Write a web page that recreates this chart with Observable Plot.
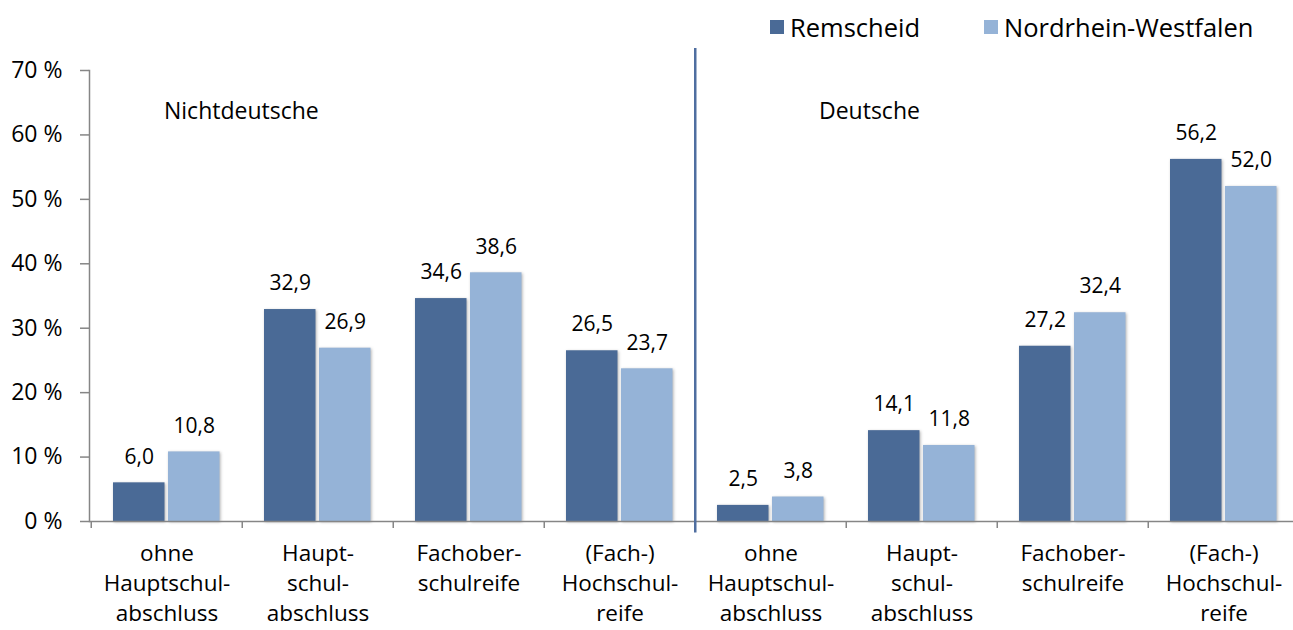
<!DOCTYPE html>
<html>
<head>
<meta charset="utf-8">
<script src="https://cdn.jsdelivr.net/npm/d3@7"></script>
<script src="https://cdn.jsdelivr.net/npm/@observablehq/plot@0.6"></script>
<style>
  html, body { margin: 0; padding: 0; background: #fff; }
  #wrap { position: relative; width: 1293px; height: 630px; overflow: hidden; font-family: "Open Sans", sans-serif; }
  #legend { position: absolute; top: 10px; left: 770px; display: flex; align-items: center; font-size: 25.5px; color: #000; white-space: nowrap; }
  #legend .sw { display: inline-block; width: 14px; height: 14px; margin-right: 6px; }
  #legend .item { display: flex; align-items: center; }
</style>
</head>
<body>
<div id="wrap"><div id="legend"></div></div>
<script>
// ---- data ----
const groups = ["Nichtdeutsche", "Deutsche"];
const categoryLabels = [
  "ohne\nHauptschul-\nabschluss",
  "Haupt-\nschul-\nabschluss",
  "Fachober-\nschulreife",
  "(Fach-)\nHochschul-\nreife"
];
const seriesNames = ["Remscheid", "Nordrhein-Westfalen"];
const seriesColors = ["#4A6A96", "#95B3D7"];
// order: Nichtdeutsche (4 categories), then Deutsche (4 categories)
const remscheid = [6.0, 32.9, 34.6, 26.5, 2.5, 14.1, 27.2, 56.2];
const nrw = [10.8, 26.9, 38.6, 23.7, 3.8, 11.8, 32.4, 52.0];
const yTicks = [0, 10, 20, 30, 40, 50, 60, 70];

// ---- build table ----
const keys = [];
groups.forEach((g, gi) => categoryLabels.forEach((c, ci) => keys.push(gi + "-" + ci)));
const labelOf = k => categoryLabels[+k.split("-")[1]];
const rowsR = keys.map((k, i) => ({key: k, value: remscheid[i]}));
const rowsN = keys.map((k, i) => ({key: k, value: nrw[i]}));
const fmt = v => v.toFixed(1).replace(".", ",");

const W = 1293, left = 89, right = 1301;
const step = (right - left) / keys.length;
const half = step / 2;
const barW = 52, gap = 3, outer = 22;
const shadow = "drop-shadow(1.5px 1.5px 1.5px rgba(0,0,0,0.3))";

const plot = Plot.plot({
  width: W,
  height: 630,
  marginTop: 70,
  marginBottom: 109,
  marginLeft: left,
  marginRight: 0,
  style: {fontFamily: "Open Sans, sans-serif", color: "#000", background: "transparent"},
  x: {domain: keys, range: [left, right], padding: 0, axis: null},
  y: {domain: [0, 70], axis: null},
  marks: [
    Plot.barY(rowsR, {x: "key", y: "value", fill: seriesColors[0],
      insetLeft: outer, insetRight: step - outer - barW, imageFilter: shadow}),
    Plot.barY(rowsN, {x: "key", y: "value", fill: seriesColors[1],
      insetLeft: outer + barW + gap, insetRight: step - outer - 2 * barW - gap, imageFilter: shadow}),
    Plot.text(rowsR, {x: "key", y: "value", text: d => fmt(d.value),
      dx: -half + outer + barW / 2, dy: -26, fontSize: 21, fill: "#000"}),
    Plot.text(rowsN, {x: "key", y: "value", text: d => fmt(d.value),
      dx: -half + outer + barW + gap + barW / 2, dy: -26, fontSize: 21, fill: "#000"}),
    // group labels
    Plot.text([groups[0]], {x: () => keys[0], y: () => 63.6, text: d => d,
      textAnchor: "start", dx: -3, fontSize: 23, fill: "#000"}),
    Plot.text([groups[1]], {x: () => keys[4], y: () => 63.6, text: d => d,
      textAnchor: "start", dx: 48, fontSize: 23, fill: "#000"}),
    // axes
    Plot.axisY({ticks: yTicks, tickFormat: d => d + " %", tickSize: 9, tickPadding: 18,
      fontSize: 23, stroke: "#868686", strokeWidth: 1.5, fill: "#000", label: null}),
    Plot.frame({anchor: "left", stroke: "#868686", strokeWidth: 1.5}),
    Plot.ruleY([0], {stroke: "#868686", strokeWidth: 1.5}),
    Plot.axisX({ticks: keys, tickFormat: () => "", tickSize: 7, dx: -half,
      stroke: "#868686", strokeWidth: 1.5, label: null}),
    Plot.axisX({ticks: keys, tickFormat: labelOf, tickSize: 0, tickPadding: 18,
      fontSize: 22.5, lineHeight: 1.33, fill: "#000", label: null}),
    // separator between groups
    Plot.ruleX([keys[4]], {dx: -half, y1: 73.4, y2: -1.8, stroke: "#4F6EA0", strokeWidth: 2.5})
  ]
});
document.getElementById("wrap").appendChild(plot);

// legend
const leg = document.getElementById("legend");
seriesNames.forEach((n, i) => {
  const it = document.createElement("div");
  it.className = "item";
  if (i > 0) it.style.marginLeft = "64px";
  const sw = document.createElement("span");
  sw.className = "sw";
  sw.style.background = seriesColors[i];
  const t = document.createElement("span");
  t.textContent = n;
  it.appendChild(sw); it.appendChild(t);
  leg.appendChild(it);
});
</script>
</body>
</html>
